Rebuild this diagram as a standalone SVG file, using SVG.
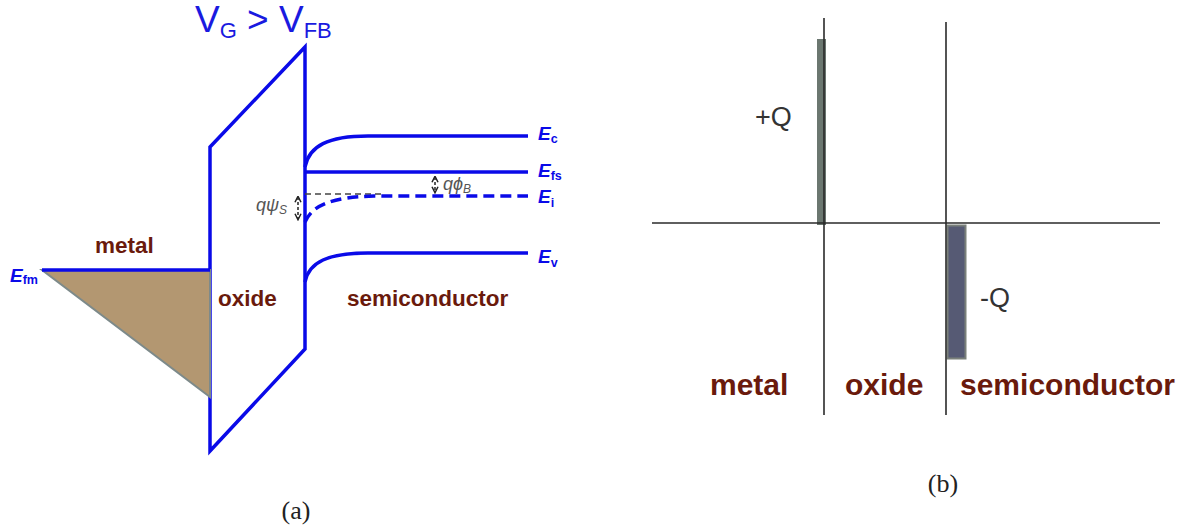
<svg xmlns="http://www.w3.org/2000/svg" width="1184" height="529" viewBox="0 0 1184 529">
<style>
.band{fill:none;stroke:#0a0ae8;stroke-width:3.5}
.lbl{font-family:"Liberation Sans",Arial,sans-serif;font-weight:bold;fill:#6a1a0c}
.E{font-family:"Liberation Sans",Arial,sans-serif;font-weight:bold;font-style:italic;fill:#0a0ae8;font-size:19px}
.sub{font-size:12.5px;font-style:normal}
.ax{stroke:#2a2a2a;stroke-width:1.6;fill:none}
.q{font-family:"Liberation Sans",Arial,sans-serif;fill:#333;font-size:27px}
.cap{font-family:"Liberation Serif","DejaVu Serif",serif;font-size:26px;fill:#222}
.sm{font-family:"Liberation Sans",Arial,sans-serif;font-style:italic;fill:#555;font-size:18px}
</style>
<defs>
<marker id="ah" viewBox="0 0 10 10" refX="8" refY="5" markerWidth="5" markerHeight="5" orient="auto-start-reverse">
<path d="M1,1 L9,5 L1,9" fill="none" stroke="#222" stroke-width="2"/>
</marker>
</defs>
<rect width="1184" height="529" fill="#fff"/>
<g id="panel-a">
<text x="195" y="32" font-family="Liberation Sans,Arial,sans-serif" font-size="37" fill="#1a1ae0">V<tspan font-size="22" dy="6">G</tspan><tspan dy="-6"> &gt; V</tspan><tspan font-size="22" dy="6">FB</tspan></text>
<g id="oxide">
<path class="band" d="M210,147 L305,47 L305,349 L210,451 Z"/>
</g>
<g id="metal">
<path d="M42,270 L210,270 L210,397 Z" fill="#b39771" stroke="#7d8a8a" stroke-width="2"/>
<path class="band" d="M42,270 L210,270"/>
<text class="E" x="10" y="282">E<tspan class="sub" dy="2">fm</tspan></text>
</g>
<g id="bands">
<path class="band" d="M305,167 C309,146 328,136 368,136 L528,136"/>
<path class="band" d="M305,172 L528,172"/>
<path d="M305,194 L382,194" fill="none" stroke="#444" stroke-width="1.5" stroke-dasharray="6,4"/>
<path class="band" d="M305,222 C313,204 334,197 374,196 L528,196" stroke-dasharray="11,6"/>
<path class="band" d="M305,282 C309,262 328,253 368,253 L528,253"/>
<text class="E" x="538" y="140">E<tspan class="sub" dy="3">c</tspan></text>
<text class="E" x="538" y="177">E<tspan class="sub" dy="3">fs</tspan></text>
<text class="E" x="538" y="203">E<tspan class="sub" dy="4">i</tspan></text>
<text class="E" x="538" y="263">E<tspan class="sub" dy="4">v</tspan></text>
</g>
<g id="qphi">
<path d="M435,177 L435,192" stroke="#222" stroke-width="1.5" stroke-dasharray="3,2" marker-start="url(#ah)" marker-end="url(#ah)"/>
<text class="sm" x="443" y="190">qϕ<tspan font-size="12" dy="3">B</tspan></text>
</g>
<g id="qpsi">
<path d="M298,197 L298,219" stroke="#222" stroke-width="1.5" stroke-dasharray="3,2" marker-start="url(#ah)" marker-end="url(#ah)"/>
<text class="sm" x="256" y="211">qψ<tspan font-size="12" dy="3">S</tspan></text>
</g>
<text class="lbl" x="95" y="253" font-size="22.5">metal</text>
<text class="lbl" x="218" y="306" font-size="22.5">oxide</text>
<text class="lbl" x="347" y="306" font-size="22.5">semiconductor</text>
<text class="cap" x="296" y="519" text-anchor="middle">(a)</text>
</g>
<g id="panel-b">
<rect x="817" y="39" width="9" height="186" fill="#6b7770"/>
<rect x="947.5" y="225.5" width="18" height="133" fill="#565a74" stroke="#7a807a" stroke-width="2"/>
<path class="ax" d="M652,223 L1160,223"/>
<path class="ax" d="M824,18 L824,415"/>
<path class="ax" d="M946,22 L946,415"/>
<text class="q" x="755" y="126">+Q</text>
<text class="q" x="980" y="307">-Q</text>
<text class="lbl" x="710" y="395" font-size="30">metal</text>
<text class="lbl" x="845" y="395" font-size="30">oxide</text>
<text class="lbl" x="960" y="395" font-size="30">semiconductor</text>
<text class="cap" x="943" y="492" text-anchor="middle">(b)</text>
</g>
</svg>
